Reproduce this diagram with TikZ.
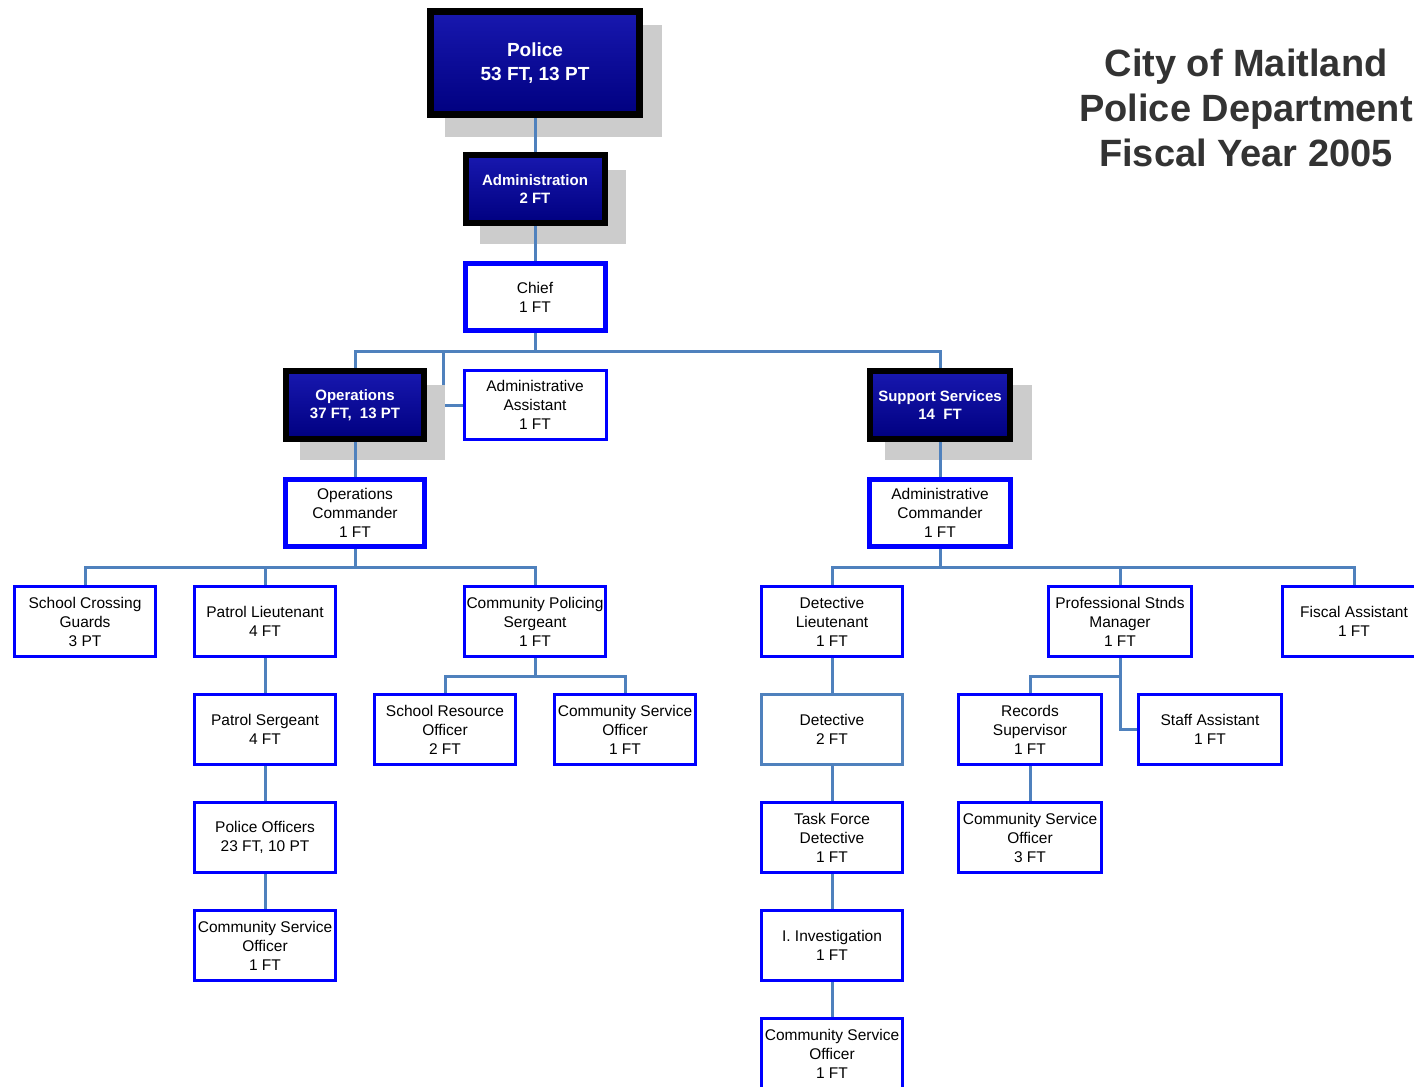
\documentclass[tikz,border=0pt]{standalone}
\usepackage{fontspec}
\setmainfont{Liberation Sans}
\definecolor{connc}{RGB}{79,129,189}
\definecolor{bbl}{RGB}{0,0,255}
\definecolor{shad}{RGB}{204,204,204}
\definecolor{ttl}{RGB}{51,51,51}
\definecolor{dktop}{RGB}{24,24,175}
\definecolor{dkbot}{RGB}{0,0,128}
\pgfdeclarelayer{bg}
\pgfdeclarelayer{low}
\pgfdeclarelayer{shadowlayer}
\pgfdeclarelayer{connlayer}
\pgfsetlayers{bg,low,shadowlayer,connlayer,main}
\tikzset{
  every node/.style={inner sep=0pt, outer sep=0pt, align=center},
  conn/.style={draw=connc, line width=3pt},
  dk/.style={draw=black, line width=6pt, top color=dktop, bottom color=dkbot, text=white,
     font=\fontsize{15}{18}\selectfont\bfseries},
  bl/.style={draw=bbl, line width=3pt, fill=white, text=black,
     font=\fontsize{15.5}{19}\selectfont},
  blk/.style={bl, line width=5pt},
  sbl/.style={bl, draw=connc},
  shadowfill/.style={fill=shad}
}
\begin{document}
\begin{tikzpicture}[x=1pt,y=-1pt]
\begin{pgfonlayer}{bg}
\fill[white] (0,0) rectangle (1414,1087);
\end{pgfonlayer}
\useasboundingbox (0,0) rectangle (1414,1087);

% title
\node[text=ttl, font=\fontsize{38}{45}\selectfont\bfseries] (title) at (1246,108)
  {City of Maitland\\Police Department\\Fiscal Year 2005};

% top dark boxes
\node[dk, line width=7pt, font=\fontsize{19}{24}\selectfont\bfseries,
      minimum width=209pt, minimum height=103pt] (police) at (535,63) {Police\\53 FT, 13 PT};
\node[dk, minimum width=139pt, minimum height=68pt] (admin) at (535,189) {Administration\\2 FT};
\node[blk, minimum width=140pt, minimum height=67pt] (chief) at (535,297) {Chief\\1 FT};

\node[dk, minimum width=138pt, minimum height=68pt] (ops) at (355,405) {Operations\\37 FT,\ \ 13 PT};
\node[bl, minimum width=142pt, minimum height=69pt] (aa) at (535,405) {Administrative\\Assistant\\1 FT};
\node[dk, minimum width=140pt, minimum height=68pt] (supp) at (940,405) {Support Services\\14\ \ FT};

\node[blk, minimum width=139pt, minimum height=67pt] (opscmd) at (355,513) {Operations\\Commander\\1 FT};
\node[blk, minimum width=141pt, minimum height=67pt] (admcmd) at (940,513) {Administrative\\Commander\\1 FT};

% row 1
\node[bl, minimum width=141pt, minimum height=70pt] (scg) at (85,621.5) {School Crossing\\Guards\\3 PT};
\node[bl, minimum width=141pt, minimum height=70pt] (pl) at (265,621.5) {Patrol Lieutenant\\4 FT};
\node[bl, minimum width=141pt, minimum height=70pt] (cps) at (535,621.5) {Community Policing\\Sergeant\\1 FT};
\node[bl, minimum width=141pt, minimum height=70pt] (dl) at (832,621.5) {Detective\\Lieutenant\\1 FT};
\node[bl, minimum width=143pt, minimum height=70pt] (psm) at (1120,621.5) {Professional Stnds\\Manager\\1 FT};
\node[bl, minimum width=143pt, minimum height=70pt] (fa) at (1354,621.5) {Fiscal Assistant\\1 FT};

% row 2
\node[bl, minimum width=141pt, minimum height=70pt] (ps) at (265,729.5) {Patrol Sergeant\\4 FT};
\node[bl, minimum width=141pt, minimum height=70pt] (sro) at (445,729.5) {School Resource\\Officer\\2 FT};
\node[bl, minimum width=141pt, minimum height=70pt] (csoa) at (625,729.5) {Community Service\\Officer\\1 FT};
\node[sbl, minimum width=141pt, minimum height=70pt] (det) at (832,729.5) {Detective\\2 FT};
\node[bl, minimum width=143pt, minimum height=70pt] (rs) at (1030,729.5) {Records\\Supervisor\\1 FT};
\node[bl, minimum width=143pt, minimum height=70pt] (sa) at (1210,729.5) {Staff Assistant\\1 FT};

% row 3
\node[bl, minimum width=141pt, minimum height=70pt] (po) at (265,837.5) {Police Officers\\23 FT, 10 PT};
\node[bl, minimum width=141pt, minimum height=70pt] (tfd) at (832,837.5) {Task Force\\Detective\\1 FT};
\node[bl, minimum width=143pt, minimum height=70pt] (csob) at (1030,837.5) {Community Service\\Officer\\3 FT};

% row 4
\node[bl, minimum width=141pt, minimum height=70pt] (csoc) at (265,945.5) {Community Service\\Officer\\1 FT};
\node[bl, minimum width=141pt, minimum height=70pt] (ii) at (832,945.5) {I. Investigation\\1 FT};

% row 5
\node[bl, minimum width=141pt, minimum height=70pt] (csod) at (832,1053.5) {Community Service\\Officer\\1 FT};

% shadows
\begin{pgfonlayer}{shadowlayer}
\fill[shadowfill] (445,25) rectangle (662,137);
\fill[shadowfill] (480,170) rectangle (626,244);
\fill[shadowfill] (300,385) rectangle (445,460);
\fill[shadowfill] (885,385) rectangle (1032,460);
\end{pgfonlayer}

% connector hidden under the operations shadow
\coordinate (bus1) at (535,351);
\coordinate (j1) at (443,351);
\begin{pgfonlayer}{low}
\draw[conn] (j1) |- (aa.west);
\end{pgfonlayer}

\coordinate (bus2) at (535,567);
\coordinate (bus3) at (940,567);
\coordinate (bus4) at (535,676);
\coordinate (bus5) at (1120,676);

\begin{pgfonlayer}{connlayer}
\draw[conn] (police) -- (admin);
\draw[conn] (admin) -- (chief);
\draw[conn] (chief.south) -- (bus1);
\draw[conn] (ops.north) -- (ops.north |- bus1) -- (supp.north |- bus1) -- (supp.north);
\draw[conn] (ops) -- (opscmd);
\draw[conn] (supp) -- (admcmd);
% operations bus
\draw[conn] (opscmd.south) -- (opscmd.south |- bus2);
\draw[conn] (scg.north) -- (scg.north |- bus2) -- (cps.north |- bus2) -- (cps.north);
\draw[conn] (pl.north) -- (pl.north |- bus2);
\draw[conn] (pl) -- (ps);
\draw[conn] (ps) -- (po);
\draw[conn] (po) -- (csoc);
\draw[conn] (cps.south) -- (bus4);
\draw[conn] (sro.north) -- (sro.north |- bus4) -- (csoa.north |- bus4) -- (csoa.north);
% support bus
\draw[conn] (admcmd.south) -- (bus3);
\draw[conn] (dl.north) -- (dl.north |- bus3) -- (fa.north |- bus3) -- (fa.north);
\draw[conn] (psm.north) -- (psm.north |- bus3);
\draw[conn] (dl) -- (det);
\draw[conn] (det) -- (tfd);
\draw[conn] (tfd) -- (ii);
\draw[conn] (ii) -- (csod);
\draw[conn] (psm.south) |- (sa.west);
\draw[conn] (rs.north) |- (bus5);
\draw[conn] (rs) -- (csob);
\end{pgfonlayer}
\end{tikzpicture}
\end{document}
